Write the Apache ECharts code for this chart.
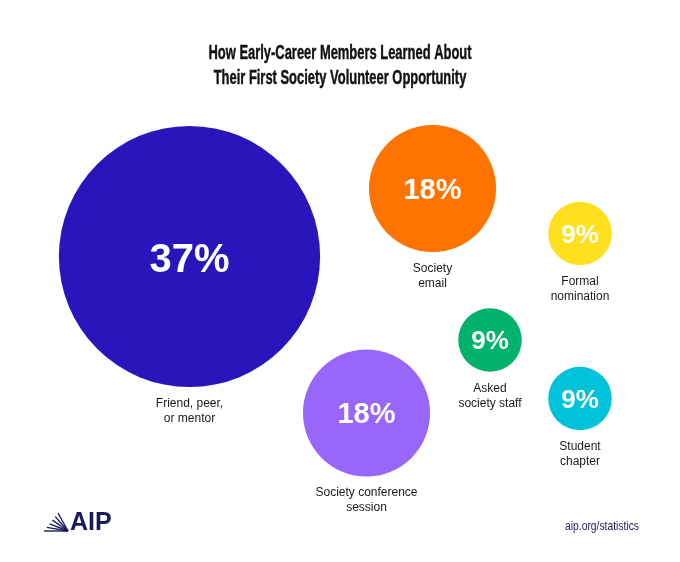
<!DOCTYPE html>
<html>
<head>
<meta charset="utf-8">
<style>
  html, body { margin: 0; padding: 0; background: #fff; }
  #chart { width: 680px; height: 562px; }
</style>
<script src="https://cdn.jsdelivr.net/npm/echarts@6/dist/echarts.min.js"></script>
</head>
<body>
<div id="chart"></div>
<script>
// 数据
var categories = ['Friend, peer,\nor mentor', 'Society\nemail', 'Formal\nnomination',
  'Asked\nsociety staff', 'Student\nchapter', 'Society conference\nsession'];
var shares = [37, 18, 9, 9, 9, 18];
// bubble layout (chart frame units)
var layoutX = [189.5, 432.5, 580, 490, 580, 366.5];
var layoutY = [256.5, 188.5, 233.5, 340, 398.5, 413];
var colors = ['#2a15bd', '#ff7300', '#ffe01f', '#00b26c', '#00c3d9', '#9966fb'];
var titleLines = ['How Early-Career Members Learned About', 'Their First Society Volunteer Opportunity'];

// radius grows linearly with the share
var radiusPerPoint = 3.53;
var pctFont = { 37: 40, 18: 29, 9: 26 };

var myChart = echarts.init(document.getElementById('chart'));

// 压缩字体宽度，模拟窄体
var ctx = document.createElement('canvas').getContext('2d');
function squeeze(text, font, width) {
  ctx.font = font;
  return width / ctx.measureText(text).width;
}

var titleFont = 'bold 20px "Liberation Sans", Arial, sans-serif';
var titleScale = squeeze(titleLines[0], titleFont, 263);
var titleText = titleLines.map(function (line, i) {
  return {
    type: 'text',
    x: 340,
    y: 53 + i * 25,
    scaleX: titleScale,
    style: {
      text: line,
      fill: '#111',
      stroke: '#111',
      lineWidth: 0.45,
      font: titleFont,
      align: 'center',
      verticalAlign: 'middle'
    }
  };
});

var urlFont = '13px "Liberation Sans", Arial, sans-serif';
var urlText = 'aip.org/statistics';

// AIP 标志的扇形线
var fan = [];
for (var k = 0; k < 6; k++) {
  var t = k / 5;
  fan.push({
    type: 'line',
    shape: { x1: 68, y1: 531, x2: 58 - 14 * t, y2: 513 + 18 * t },
    style: { stroke: '#1c1a5c', lineWidth: 1.4 }
  });
}

var option = {
  backgroundColor: '#fff',
  animation: false,
  grid: { left: 0, right: 0, top: 0, bottom: 0 },
  xAxis: { type: 'value', min: 0, max: 680, show: false },
  yAxis: { type: 'value', min: 0, max: 562, inverse: true, show: false },
  series: [
    {
      // 圆和百分比
      type: 'scatter',
      data: shares.map(function (v, i) {
        return {
          value: [layoutX[i], layoutY[i], v],
          itemStyle: { color: colors[i], opacity: 1 },
          label: { fontSize: pctFont[v], offset: [0, v > 30 ? 4 : 2] }
        };
      }),
      symbolSize: function (val) { return val[2] * radiusPerPoint * 2; },
      label: {
        show: true,
        position: 'inside',
        formatter: function (p) { return p.value[2] + '%'; },
        color: '#fff',
        fontFamily: '"Liberation Sans", Arial, sans-serif',
        fontWeight: 'bold'
      },
      emphasis: { disabled: true }
    },
    {
      // 类别文字
      type: 'scatter',
      data: shares.map(function (v, i) {
        return { name: categories[i], value: [layoutX[i], layoutY[i], v] };
      }),
      symbolSize: function (val) { return val[2] * radiusPerPoint * 2; },
      itemStyle: { color: 'rgba(0,0,0,0)', opacity: 1 },
      label: {
        show: true,
        position: 'bottom',
        distance: 9,
        formatter: '{b}',
        color: '#1a1a1a',
        fontSize: 12,
        lineHeight: 15,
        fontFamily: '"Liberation Sans", Arial, sans-serif'
      },
      emphasis: { disabled: true },
      silent: true,
      z: 3
    }
  ],
  graphic: titleText.concat(fan).concat([
    {
      type: 'text',
      left: 70,
      top: 511,
      style: {
        text: 'AIP',
        fill: '#1c1a5c',
        font: 'bold 25px "Liberation Sans", Arial, sans-serif'
      }
    },
    {
      type: 'text',
      x: 639,
      y: 526,
      scaleX: squeeze(urlText, urlFont, 74),
      style: {
        text: urlText,
        fill: '#1e1b5e',
        font: urlFont,
        align: 'right',
        verticalAlign: 'middle'
      }
    }
  ])
};

myChart.setOption(option);
</script>
</body>
</html>
